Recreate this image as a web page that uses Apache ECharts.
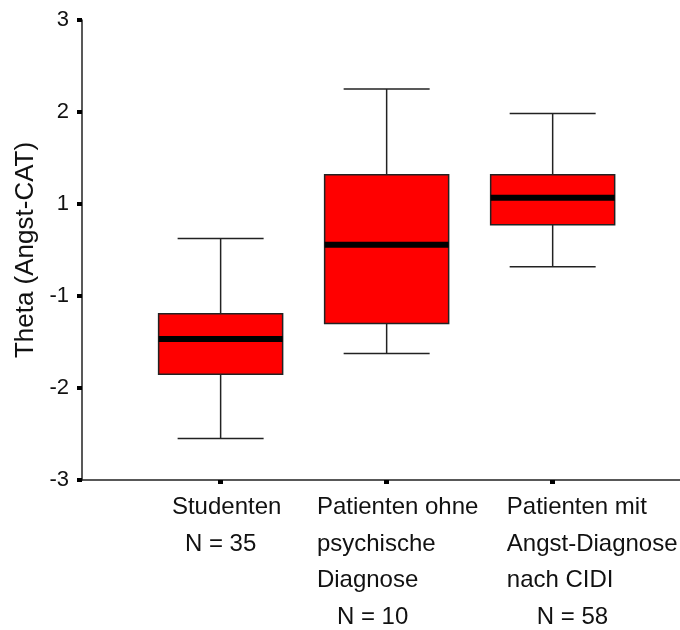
<!DOCTYPE html>
<html>
<head>
<meta charset="utf-8">
<script src="https://cdn.jsdelivr.net/npm/echarts@6/dist/echarts.min.js"></script>
<style>
html,body{margin:0;padding:0;background:#fff;}
#chart{width:680px;height:630px;}
</style>
</head>
<body>
<div id="chart"></div>
<script>
// ---- data ----
const categories = ['Studenten', 'Patienten ohne\npsychische\nDiagnose', 'Patienten mit\nAngst-Diagnose\nnach CIDI'];
const groupN = [35, 10, 58];
const whiskerLow = [-2.46, -1.35, -0.22];
const quartile1 = [-1.62, -0.96, 0.33];
const medians = [-1.16, 0.07, 0.68];
const quartile3 = [-0.83, 0.98, 0.98];
const whiskerHigh = [0.15, 2.10, 1.78];
const yTickValues = [-3, -1.8, -0.6, 0.6, 1.8, 3];
const yTickLabels = ['-3', '-2', '-1', '1', '2', '3'];
const yTitle = 'Theta (Angst-CAT)';

// ---- style ----
const FONT = "'Liberation Sans', Arial, sans-serif";
const TEXT = '#111';
const LINE = '#222';
const labelIndent = [[12, 25], [22, 42], [79, 109]];
const LABEL_LH = 36.7;
const BOX_W = 0.747, CAP_W = 0.518;
const X_MIN = -0.835, X_MAX = 2.767;

const rich = {};
categories.forEach((c, i) => {
  rich['t' + i] = {fontFamily: FONT, fontSize: 24, lineHeight: LABEL_LH, color: TEXT, align: 'left', padding: [0, 0, 0, labelIndent[i][0]]};
  rich['n' + i] = {fontFamily: FONT, fontSize: 24, lineHeight: LABEL_LH, color: TEXT, align: 'left', padding: [0, 0, 0, labelIndent[i][1]]};
});

const catIdx = categories.map((c, i) => i);
// split labels over two stacked axes so the wide, offset label blocks are never culled as overlapping
const axisA = catIdx.filter(i => i % 2 === 0);
const axisB = catIdx.filter(i => i % 2 === 1);

function catLabel(v) {
  const i = Math.round(v);
  const lines = categories[i].split('\n').map(l => '{t' + i + '|' + l + '}');
  lines.push('{n' + i + '|N = ' + groupN[i] + '}');
  return lines.join('\n');
}

function makeXAxis(vals, showLine) {
  return {
    type: 'value', min: X_MIN, max: X_MAX, position: 'bottom', offset: 0,
    splitLine: {show: false},
    axisLine: {show: showLine, onZero: false, lineStyle: {color: LINE, width: 1.5}},
    axisTick: {customValues: vals, length: 4, lineStyle: {color: '#000', width: 5}},
    axisLabel: {
      customValues: vals,
      showMinLabel: true, showMaxLabel: true, hideOverlap: false,
      margin: 9, align: 'center', verticalAlign: 'top',
      fontFamily: FONT, fontSize: 24, lineHeight: LABEL_LH, color: TEXT,
      formatter: catLabel,
      rich: rich
    }
  };
}

const seriesData = catIdx.map(i => [i, whiskerLow[i], quartile1[i], medians[i], quartile3[i], whiskerHigh[i]]);

const chart = echarts.init(document.getElementById('chart'), null, {renderer: 'canvas'});
chart.setOption({
  backgroundColor: '#fff',
  animation: false,
  grid: {left: 82, right: 0, top: 20, bottom: 150, containLabel: false, outerBoundsMode: 'none'},
  xAxis: [makeXAxis(axisA, true), makeXAxis(axisB, false)],
  yAxis: {
    type: 'value', min: -3, max: 3,
    name: yTitle, nameLocation: 'middle', nameGap: 42, nameRotate: 90,
    nameTextStyle: {fontFamily: FONT, fontSize: 26, color: TEXT},
    splitLine: {show: false},
    axisLine: {onZero: false, lineStyle: {color: LINE, width: 1.5}},
    axisTick: {customValues: yTickValues, length: 5, lineStyle: {color: '#000', width: 4}},
    axisLabel: {
      customValues: yTickValues,
      showMinLabel: true, showMaxLabel: true,
      margin: 13, fontFamily: FONT, fontSize: 22, color: TEXT,
      formatter: function (v) {
        const k = yTickValues.findIndex(t => Math.abs(t - v) < 1e-6);
        return k >= 0 ? yTickLabels[k] : '';
      }
    }
  },
  series: [{
    type: 'custom',
    xAxisIndex: 0,
    data: seriesData,
    encode: {x: 0, y: [1, 2, 3, 4, 5]},
    clip: false,
    renderItem: function (params, api) {
      const i = api.value(0);
      const pLo = api.coord([i, api.value(1)]);
      const pQ1 = api.coord([i, api.value(2)]);
      const pMed = api.coord([i, api.value(3)]);
      const pQ3 = api.coord([i, api.value(4)]);
      const pHi = api.coord([i, api.value(5)]);
      const bw = api.size([BOX_W, 0])[0];
      const cw = api.size([CAP_W, 0])[0];
      const x = pMed[0];
      const ls = {stroke: LINE, lineWidth: 1.5};
      return {
        type: 'group',
        children: [
          {type: 'line', shape: {x1: x, y1: pHi[1], x2: x, y2: pQ3[1]}, style: ls},
          {type: 'line', shape: {x1: x, y1: pQ1[1], x2: x, y2: pLo[1]}, style: ls},
          {type: 'line', shape: {x1: x - cw / 2, y1: pHi[1], x2: x + cw / 2, y2: pHi[1]}, style: ls},
          {type: 'line', shape: {x1: x - cw / 2, y1: pLo[1], x2: x + cw / 2, y2: pLo[1]}, style: ls},
          {type: 'rect', shape: {x: x - bw / 2, y: pQ3[1], width: bw, height: pQ1[1] - pQ3[1]},
           style: {fill: '#ff0000', stroke: LINE, lineWidth: 1.5}},
          {type: 'rect', shape: {x: x - bw / 2, y: pMed[1] - 3, width: bw, height: 6},
           style: {fill: '#000'}}
        ]
      };
    }
  }]
});
</script>
</body>
</html>
